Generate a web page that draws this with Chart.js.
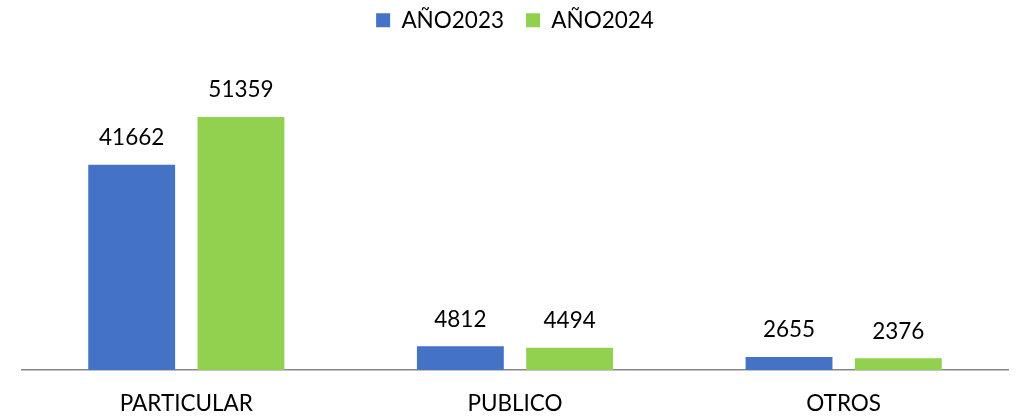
<!DOCTYPE html>
<html>
<head>
<meta charset="utf-8">
<script src="https://cdn.jsdelivr.net/npm/chart.js@4"></script>
<style>
  html, body { margin: 0; padding: 0; background: #fff; }
  #wrap { width: 1018px; height: 417px; }
</style>
</head>
<body>
<div id="wrap"><canvas id="mainChart" width="1018" height="417"></canvas></div>
<script>
// datos
const categorias = ['PARTICULAR', 'PUBLICO', 'OTROS'];
const serie2023 = [41662, 4812, 2655];
const serie2024 = [51359, 4494, 2376];
const nombresSeries = ['AÑO2023', 'AÑO2024'];

const FONT = 'Lato, "Open Sans", sans-serif';

// etiquetas de valor encima de cada barra
const valueLabels = {
    id: 'valueLabels',
    afterDatasetsDraw(chart) {
        const ctx = chart.ctx;
        ctx.save();
        ctx.fillStyle = '#000';
        ctx.font = '22.5px ' + FONT;
        ctx.textAlign = 'center';
        ctx.textBaseline = 'middle';
        chart.data.datasets.forEach((ds, i) => {
            chart.getDatasetMeta(i).data.forEach((bar, j) => {
                ctx.fillText(String(ds.data[j]), bar.x, bar.y - 27);
            });
        });
        ctx.restore();
    }
};

const ctx = document.getElementById('mainChart').getContext('2d');
new Chart(ctx, {
    type: 'bar',
    data: {
        labels: categorias,
        datasets: [
            { label: nombresSeries[0], data: serie2023, backgroundColor: '#4472C4' },
            { label: nombresSeries[1], data: serie2024, backgroundColor: '#92D050' }
        ]
    },
    options: {
        responsive: false,
        animation: false,
        categoryPercentage: 0.665,
        barPercentage: 0.795,
        layout: { padding: { left: 22, right: 10, top: -13, bottom: -12 } },
        plugins: {
            legend: {
                position: 'top',
                labels: {
                    boxWidth: 14,
                    boxHeight: 14,
                    color: '#000',
                    padding: 22,
                    font: { family: FONT, size: 22.5 }
                }
            },
            tooltip: { enabled: false }
        },
        scales: {
            x: {
                grid: { display: false },
                border: { display: true, color: '#888', width: 1.5 },
                ticks: { color: '#000', padding: 12, font: { family: FONT, size: 22.5 } }
            },
            y: {
                display: false,
                min: 0,
                max: 66700
            }
        }
    },
    plugins: [valueLabels]
});
</script>
</body>
</html>
